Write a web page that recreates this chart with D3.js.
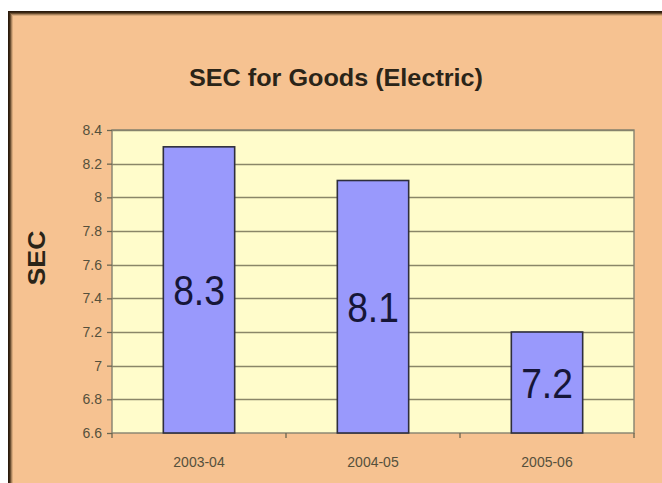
<!DOCTYPE html>
<html><head><meta charset="utf-8">
<script src="https://cdn.jsdelivr.net/npm/d3@7"></script>
<style>body{margin:0;background:#fff}svg{display:block}</style>
</head><body>
<script>
const categories = ["2003-04", "2004-05", "2005-06"];
const values = [8.3, 8.1, 7.2];
const yTicks = [6.6, 6.8, 7, 7.2, 7.4, 7.6, 7.8, 8, 8.2, 8.4];
const title = "SEC for Goods (Electric)";
const yTitle = "SEC";

const W = 662, H = 483;
const svg = d3.select("body").append("svg").attr("width", W).attr("height", H);

// frame background
svg.append("rect").attr("x", 8).attr("y", 11).attr("width", W).attr("height", H)
  .attr("fill", "#f6c291");
// inner shadow of frame
const shades = ["#2b1a0c", "#3c2814", "#6b4e30", "#a8825c", "#d8aa7c"];
shades.forEach((c, i) => {
  svg.append("line").attr("x1", 8 + i).attr("x2", W).attr("y1", 11.5 + i).attr("y2", 11.5 + i)
    .attr("stroke", c).attr("stroke-width", 1);
  svg.append("line").attr("x1", 8.5 + i).attr("x2", 8.5 + i).attr("y1", 11 + i).attr("y2", H)
    .attr("stroke", c).attr("stroke-width", 1);
});

const m = {left: 112, top: 130, right: 634, bottom: 433};
const x = d3.scaleBand().domain(categories).range([m.left, m.right]).paddingInner(0.59).paddingOuter(0.295);
const xb = d3.scaleBand().domain(categories).range([m.left, m.right]);
const y = d3.scaleLinear().domain([6.6, 8.4]).range([m.bottom, m.top]);

// plot area
svg.append("rect").attr("x", m.left).attr("y", m.top).attr("width", m.right - m.left)
  .attr("height", m.bottom - m.top).attr("fill", "#fffccb");

// gridlines
svg.append("g").selectAll("line").data(yTicks.slice(1)).join("line")
  .attr("x1", m.left).attr("x2", m.right)
  .attr("y1", d => Math.round(y(d)) + 0.5).attr("y2", d => Math.round(y(d)) + 0.5)
  .attr("stroke", "#8a8668").attr("stroke-width", 1.4);

// plot border
svg.append("rect").attr("x", m.left).attr("y", m.top).attr("width", m.right - m.left)
  .attr("height", m.bottom - m.top).attr("fill", "none").attr("stroke", "#85826f").attr("stroke-width", 1.4);

// bars
svg.append("g").selectAll("rect").data(values).join("rect")
  .attr("x", (d, i) => x(categories[i]))
  .attr("width", x.bandwidth())
  .attr("y", d => y(d))
  .attr("height", d => y(6.6) - y(d))
  .attr("fill", "#9999fc").attr("stroke", "#2e2e3c").attr("stroke-width", 1.6);

// data labels
svg.append("g").selectAll("text").data(values).join("text")
  .attr("transform", (d, i) => `translate(${x(categories[i]) + x.bandwidth() / 2},${(y(d) + y(6.6)) / 2}) scale(0.93,1.07)`)
  .attr("dy", "0.36em")
  .attr("text-anchor", "middle")
  .attr("font-family", "Liberation Sans, Arial, sans-serif")
  .attr("font-size", 40)
  .attr("fill", "#161638")
  .text(d => d);

// y axis
const yAxis = d3.axisLeft(y).tickValues(yTicks).tickSize(5).tickPadding(5).tickFormat(d3.format("~g"));
const gy = svg.append("g").attr("transform", `translate(${m.left},0)`).call(yAxis);
gy.select(".domain").remove();
gy.selectAll(".tick line").attr("stroke", "#6b6650").attr("stroke-width", 1.3);
gy.selectAll("text").attr("font-family", "Liberation Sans, Arial, sans-serif")
  .attr("font-size", 14).attr("fill", "#55503c");

// x axis
const xAxis = d3.axisBottom(xb).tickSize(0).tickPadding(24);
const gx = svg.append("g").attr("transform", `translate(0,${m.bottom})`).call(xAxis);
gx.select(".domain").remove();
gx.selectAll("text").attr("font-family", "Liberation Sans, Arial, sans-serif")
  .attr("font-size", 14).attr("fill", "#55503c");
// category separator ticks
const sep = [m.left, ...categories.slice(1).map(c => xb(c)), m.right];
svg.append("g").selectAll("line").data(sep).join("line")
  .attr("x1", d => d).attr("x2", d => d).attr("y1", m.bottom).attr("y2", m.bottom + 5)
  .attr("stroke", "#6b6650").attr("stroke-width", 1.3);

// title
svg.append("text").attr("x", 336).attr("y", 86).attr("text-anchor", "middle")
  .attr("font-family", "Liberation Sans, Arial, sans-serif").attr("font-weight", "bold")
  .attr("font-size", 24).attr("textLength", 294).attr("lengthAdjust", "spacingAndGlyphs")
  .attr("fill", "#2a2418").text(title);

// y title
svg.append("text").attr("transform", "translate(45,258) rotate(-90)").attr("text-anchor", "middle")
  .attr("font-family", "Liberation Sans, Arial, sans-serif").attr("font-weight", "bold")
  .attr("font-size", 23).attr("textLength", 55).attr("lengthAdjust", "spacingAndGlyphs")
  .attr("fill", "#2a2418").text(yTitle);
</script>
</body></html>
